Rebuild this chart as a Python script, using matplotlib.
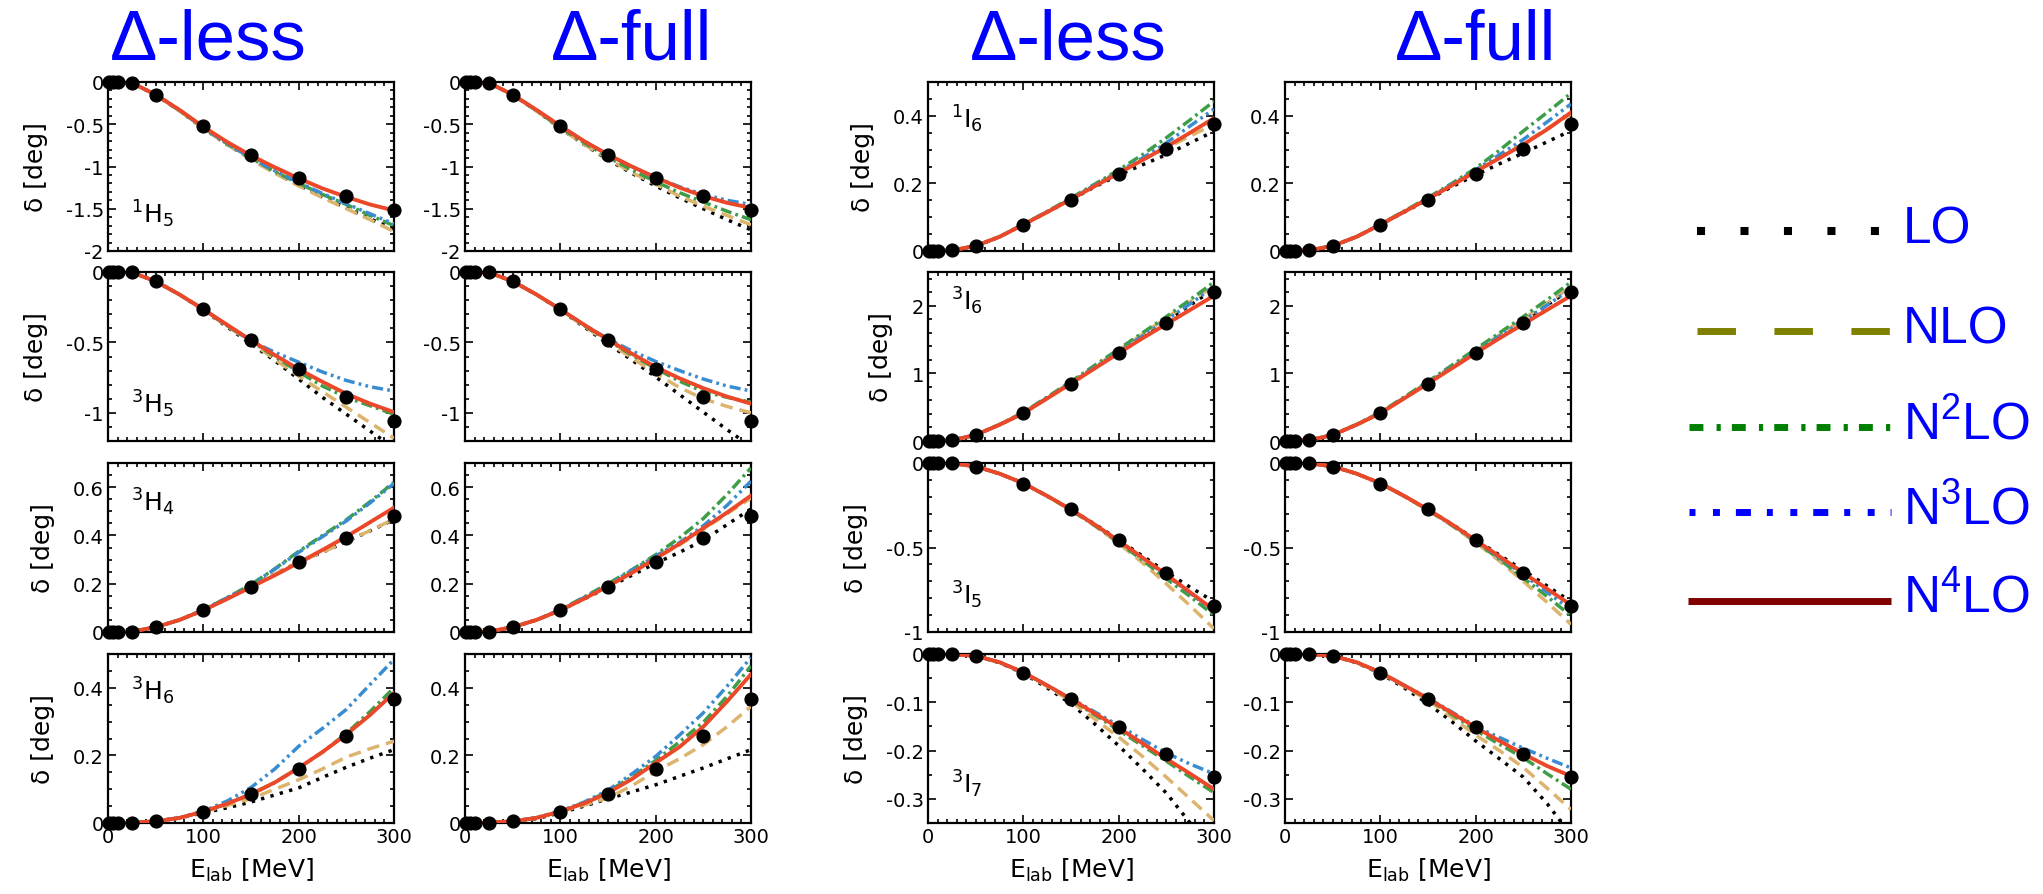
import numpy as np
import matplotlib.pyplot as plt
from matplotlib.ticker import MultipleLocator, FormatStrFormatter

plt.rcParams['axes.unicode_minus'] = False
plt.rcParams['lines.scale_dashes'] = False

# energies (MeV) of the curves and of the PWA points
E = [0, 25, 50, 75, 100, 125, 150, 175, 200, 225, 250, 275, 300]
E_pwa = [1, 5, 10, 25, 50, 100, 150, 200, 250, 300]

orders = ["LO", "NLO", "N2LO", "N3LO", "N4LO"]
legend_labels = ["LO", "NLO", r"N$^{\mathregular{2}}$LO",
                 r"N$^{\mathregular{3}}$LO", r"N$^{\mathregular{4}}$LO"]
titles = ["Δ-less", "Δ-full", "Δ-less", "Δ-full"]

# ---- 1H5
pwa_1H5 = [0, 0, 0, -0.01, -0.155, -0.52, -0.865, -1.135, -1.35, -1.515]
less_1H5 = {
    "LO":   [0, -0.01, -0.15, -0.34, -0.55, -0.74, -0.91, -1.07, -1.22, -1.36, -1.49, -1.62, -1.74],
    "NLO":  [0, -0.01, -0.15, -0.34, -0.55, -0.74, -0.92, -1.08, -1.23, -1.37, -1.50, -1.63, -1.77],
    "N2LO": [0, -0.01, -0.15, -0.34, -0.54, -0.73, -0.90, -1.06, -1.20, -1.33, -1.45, -1.58, -1.70],
    "N3LO": [0, -0.01, -0.15, -0.33, -0.54, -0.73, -0.90, -1.05, -1.19, -1.32, -1.44, -1.56, -1.68],
    "N4LO": [0, -0.01, -0.15, -0.33, -0.53, -0.71, -0.87, -1.01, -1.14, -1.26, -1.36, -1.45, -1.52],
}
full_1H5 = {
    "LO":   [0, -0.01, -0.15, -0.34, -0.55, -0.74, -0.92, -1.08, -1.23, -1.37, -1.50, -1.63, -1.75],
    "NLO":  [0, -0.01, -0.15, -0.34, -0.55, -0.74, -0.91, -1.07, -1.21, -1.35, -1.47, -1.58, -1.69],
    "N2LO": [0, -0.01, -0.15, -0.34, -0.54, -0.72, -0.89, -1.04, -1.18, -1.31, -1.42, -1.53, -1.63],
    "N3LO": [0, -0.01, -0.15, -0.33, -0.52, -0.70, -0.86, -1.00, -1.13, -1.24, -1.33, -1.40, -1.45],
    "N4LO": [0, -0.01, -0.15, -0.33, -0.52, -0.70, -0.86, -1.00, -1.13, -1.25, -1.35, -1.43, -1.49],
}

# ---- 3H5
pwa_3H5 = [0, 0, 0, -0.003, -0.066, -0.265, -0.486, -0.69, -0.89, -1.055]
less_3H5 = {
    "LO":   [0, -0.003, -0.066, -0.16, -0.27, -0.39, -0.51, -0.63, -0.76, -0.89, -1.01, -1.13, -1.25],
    "NLO":  [0, -0.003, -0.066, -0.16, -0.27, -0.385, -0.50, -0.62, -0.74, -0.85, -0.96, -1.07, -1.18],
    "N2LO": [0, -0.003, -0.066, -0.16, -0.265, -0.38, -0.49, -0.60, -0.71, -0.81, -0.89, -0.95, -1.01],
    "N3LO": [0, -0.003, -0.066, -0.16, -0.265, -0.38, -0.49, -0.57, -0.64, -0.71, -0.77, -0.815, -0.845],
    "N4LO": [0, -0.003, -0.066, -0.16, -0.265, -0.375, -0.485, -0.59, -0.69, -0.78, -0.865, -0.935, -0.995],
}
full_3H5 = {
    "LO":   [0, -0.003, -0.066, -0.16, -0.27, -0.39, -0.51, -0.625, -0.745, -0.87, -0.995, -1.12, -1.24],
    "NLO":  [0, -0.003, -0.066, -0.16, -0.27, -0.385, -0.50, -0.61, -0.72, -0.82, -0.90, -0.955, -1.0],
    "N2LO": [0, -0.003, -0.066, -0.16, -0.265, -0.38, -0.485, -0.59, -0.685, -0.775, -0.85, -0.89, -0.925],
    "N3LO": [0, -0.003, -0.066, -0.16, -0.265, -0.375, -0.475, -0.56, -0.635, -0.70, -0.76, -0.81, -0.845],
    "N4LO": [0, -0.003, -0.066, -0.16, -0.265, -0.375, -0.48, -0.58, -0.675, -0.755, -0.825, -0.885, -0.935],
}

# ---- 3H4
pwa_3H4 = [0, 0, 0, 0.002, 0.02, 0.09, 0.187, 0.29, 0.39, 0.48]
less_3H4 = {
    "LO":   [0, 0.002, 0.02, 0.05, 0.09, 0.138, 0.19, 0.24, 0.29, 0.33, 0.374, 0.419, 0.466],
    "NLO":  [0, 0.002, 0.02, 0.05, 0.09, 0.138, 0.19, 0.24, 0.29, 0.33, 0.375, 0.42, 0.468],
    "N2LO": [0, 0.002, 0.02, 0.05, 0.092, 0.142, 0.197, 0.262, 0.334, 0.40, 0.465, 0.54, 0.62],
    "N3LO": [0, 0.002, 0.02, 0.05, 0.092, 0.142, 0.197, 0.26, 0.33, 0.395, 0.46, 0.535, 0.615],
    "N4LO": [0, 0.002, 0.02, 0.05, 0.09, 0.137, 0.186, 0.235, 0.287, 0.34, 0.395, 0.455, 0.515],
}
full_3H4 = {
    "LO":   [0, 0.002, 0.02, 0.05, 0.09, 0.137, 0.185, 0.235, 0.285, 0.33, 0.38, 0.445, 0.51],
    "NLO":  [0, 0.002, 0.02, 0.05, 0.09, 0.138, 0.19, 0.245, 0.305, 0.36, 0.425, 0.49, 0.555],
    "N2LO": [0, 0.002, 0.02, 0.05, 0.092, 0.145, 0.2, 0.258, 0.32, 0.39, 0.47, 0.57, 0.68],
    "N3LO": [0, 0.002, 0.02, 0.05, 0.092, 0.143, 0.197, 0.255, 0.315, 0.37, 0.44, 0.525, 0.625],
    "N4LO": [0, 0.002, 0.02, 0.05, 0.09, 0.138, 0.19, 0.245, 0.305, 0.365, 0.43, 0.495, 0.565],
}

# ---- 3H6
pwa_3H6 = [0, 0, 0, 0.001, 0.005, 0.034, 0.087, 0.161, 0.257, 0.367]
less_3H6 = {
    "LO":   [0, 0.001, 0.005, 0.015, 0.03, 0.045, 0.062, 0.083, 0.104, 0.135, 0.165, 0.192, 0.217],
    "NLO":  [0, 0.001, 0.005, 0.015, 0.033, 0.052, 0.072, 0.10, 0.128, 0.16, 0.195, 0.22, 0.242],
    "N2LO": [0, 0.001, 0.005, 0.015, 0.034, 0.057, 0.085, 0.12, 0.163, 0.21, 0.265, 0.33, 0.40],
    "N3LO": [0, 0.001, 0.005, 0.016, 0.035, 0.065, 0.105, 0.16, 0.227, 0.28, 0.336, 0.41, 0.484],
    "N4LO": [0, 0.001, 0.005, 0.015, 0.034, 0.057, 0.085, 0.12, 0.163, 0.21, 0.262, 0.32, 0.385],
}
full_3H6 = {
    "LO":   [0, 0.001, 0.005, 0.013, 0.03, 0.05, 0.072, 0.092, 0.113, 0.138, 0.163, 0.19, 0.217],
    "NLO":  [0, 0.001, 0.005, 0.015, 0.033, 0.053, 0.074, 0.11, 0.153, 0.19, 0.232, 0.285, 0.345],
    "N2LO": [0, 0.001, 0.005, 0.016, 0.035, 0.06, 0.093, 0.137, 0.185, 0.24, 0.298, 0.375, 0.465],
    "N3LO": [0, 0.001, 0.005, 0.016, 0.035, 0.062, 0.097, 0.145, 0.197, 0.26, 0.326, 0.405, 0.49],
    "N4LO": [0, 0.001, 0.005, 0.015, 0.034, 0.058, 0.089, 0.13, 0.178, 0.225, 0.285, 0.36, 0.44],
}

# ---- 1I6
pwa_1I6 = [0, 0, 0, 0.002, 0.015, 0.078, 0.152, 0.228, 0.301, 0.376]
less_1I6 = {
    "LO":   [0, 0.002, 0.015, 0.042, 0.078, 0.115, 0.152, 0.19, 0.225, 0.255, 0.285, 0.32, 0.354],
    "NLO":  [0, 0.002, 0.015, 0.042, 0.078, 0.115, 0.153, 0.193, 0.232, 0.27, 0.305, 0.34, 0.375],
    "N2LO": [0, 0.002, 0.015, 0.042, 0.079, 0.117, 0.157, 0.198, 0.24, 0.285, 0.335, 0.388, 0.443],
    "N3LO": [0, 0.002, 0.015, 0.042, 0.079, 0.116, 0.155, 0.195, 0.235, 0.275, 0.32, 0.37, 0.42],
    "N4LO": [0, 0.002, 0.015, 0.042, 0.078, 0.115, 0.153, 0.192, 0.23, 0.269, 0.308, 0.35, 0.393],
}
full_1I6 = {
    "LO":   [0, 0.002, 0.015, 0.042, 0.078, 0.115, 0.152, 0.19, 0.225, 0.258, 0.29, 0.323, 0.356],
    "NLO":  [0, 0.002, 0.015, 0.042, 0.078, 0.116, 0.155, 0.195, 0.235, 0.275, 0.318, 0.362, 0.405],
    "N2LO": [0, 0.002, 0.015, 0.042, 0.079, 0.118, 0.158, 0.2, 0.245, 0.298, 0.355, 0.41, 0.467],
    "N3LO": [0, 0.002, 0.015, 0.042, 0.079, 0.117, 0.156, 0.197, 0.24, 0.285, 0.33, 0.382, 0.435],
    "N4LO": [0, 0.002, 0.015, 0.042, 0.078, 0.116, 0.154, 0.194, 0.235, 0.275, 0.315, 0.36, 0.41],
}

# ---- 3I6
pwa_3I6 = [0, 0, 0, 0.01, 0.09, 0.42, 0.85, 1.3, 1.75, 2.2]
less_3I6 = {
    "LO":   [0, 0.01, 0.09, 0.24, 0.415, 0.635, 0.86, 1.09, 1.32, 1.55, 1.78, 2.01, 2.25],
    "NLO":  [0, 0.01, 0.09, 0.24, 0.42, 0.64, 0.87, 1.1, 1.34, 1.58, 1.82, 2.06, 2.3],
    "N2LO": [0, 0.01, 0.09, 0.245, 0.425, 0.65, 0.88, 1.12, 1.36, 1.6, 1.84, 2.09, 2.35],
    "N3LO": [0, 0.01, 0.09, 0.24, 0.415, 0.635, 0.86, 1.09, 1.32, 1.55, 1.79, 2.03, 2.28],
    "N4LO": [0, 0.01, 0.09, 0.24, 0.41, 0.63, 0.85, 1.075, 1.3, 1.52, 1.73, 1.94, 2.15],
}
full_3I6 = {
    "LO":   [0, 0.01, 0.09, 0.24, 0.415, 0.635, 0.86, 1.09, 1.32, 1.55, 1.78, 2.01, 2.25],
    "NLO":  [0, 0.01, 0.09, 0.24, 0.42, 0.64, 0.87, 1.1, 1.335, 1.57, 1.805, 2.04, 2.28],
    "N2LO": [0, 0.01, 0.09, 0.245, 0.425, 0.65, 0.88, 1.12, 1.36, 1.6, 1.84, 2.09, 2.35],
    "N3LO": [0, 0.01, 0.09, 0.24, 0.415, 0.635, 0.86, 1.09, 1.32, 1.55, 1.78, 2.01, 2.25],
    "N4LO": [0, 0.01, 0.09, 0.24, 0.41, 0.63, 0.85, 1.075, 1.3, 1.52, 1.73, 1.94, 2.15],
}

# ---- 3I5
pwa_3I5 = [0, 0, 0, -0.001, -0.022, -0.122, -0.275, -0.457, -0.65, -0.848]
less_3I5 = {
    "LO":   [0, -0.002, -0.02, -0.063, -0.12, -0.195, -0.275, -0.362, -0.455, -0.55, -0.645, -0.735, -0.82],
    "NLO":  [0, -0.002, -0.02, -0.063, -0.12, -0.196, -0.28, -0.372, -0.475, -0.59, -0.715, -0.845, -0.98],
    "N2LO": [0, -0.002, -0.02, -0.063, -0.12, -0.196, -0.278, -0.37, -0.47, -0.575, -0.685, -0.79, -0.90],
    "N3LO": [0, -0.002, -0.02, -0.063, -0.12, -0.195, -0.276, -0.366, -0.462, -0.562, -0.665, -0.77, -0.88],
    "N4LO": [0, -0.002, -0.02, -0.063, -0.12, -0.195, -0.275, -0.365, -0.46, -0.56, -0.66, -0.765, -0.87],
}
full_3I5 = {
    "LO":   [0, -0.002, -0.02, -0.063, -0.12, -0.195, -0.275, -0.362, -0.453, -0.545, -0.635, -0.728, -0.82],
    "NLO":  [0, -0.002, -0.02, -0.063, -0.12, -0.196, -0.28, -0.37, -0.47, -0.58, -0.70, -0.825, -0.955],
    "N2LO": [0, -0.002, -0.02, -0.063, -0.12, -0.196, -0.278, -0.368, -0.465, -0.57, -0.68, -0.79, -0.905],
    "N3LO": [0, -0.002, -0.02, -0.063, -0.12, -0.195, -0.276, -0.365, -0.46, -0.56, -0.662, -0.765, -0.87],
    "N4LO": [0, -0.002, -0.02, -0.063, -0.12, -0.195, -0.275, -0.363, -0.457, -0.553, -0.65, -0.745, -0.84],
}

# ---- 3I7
pwa_3I7 = [0, 0, 0, 0, -0.005, -0.04, -0.093, -0.151, -0.207, -0.255]
less_3I7 = {
    "LO":   [0, 0, -0.004, -0.018, -0.04, -0.07, -0.103, -0.145, -0.19, -0.238, -0.288, -0.35, -0.415],
    "NLO":  [0, 0, -0.004, -0.017, -0.039, -0.067, -0.098, -0.135, -0.172, -0.212, -0.255, -0.30, -0.345],
    "N2LO": [0, 0, -0.004, -0.017, -0.038, -0.065, -0.094, -0.126, -0.158, -0.19, -0.222, -0.255, -0.287],
    "N3LO": [0, 0, -0.004, -0.017, -0.038, -0.065, -0.092, -0.12, -0.148, -0.177, -0.205, -0.228, -0.248],
    "N4LO": [0, 0, -0.004, -0.017, -0.038, -0.065, -0.093, -0.123, -0.153, -0.185, -0.217, -0.248, -0.28],
}
full_3I7 = {
    "LO":   [0, 0, -0.004, -0.018, -0.04, -0.07, -0.103, -0.14, -0.18, -0.217, -0.255, -0.31, -0.375],
    "NLO":  [0, 0, -0.004, -0.017, -0.039, -0.067, -0.096, -0.131, -0.168, -0.2, -0.235, -0.278, -0.322],
    "N2LO": [0, 0, -0.004, -0.017, -0.038, -0.065, -0.093, -0.125, -0.158, -0.187, -0.215, -0.248, -0.28],
    "N3LO": [0, 0, -0.004, -0.017, -0.038, -0.065, -0.091, -0.12, -0.15, -0.173, -0.195, -0.216, -0.236],
    "N4LO": [0, 0, -0.004, -0.017, -0.038, -0.065, -0.092, -0.122, -0.152, -0.18, -0.207, -0.232, -0.253],
}

# panel grid: (label, pwa, less, full, ylim, major, minor, label y in axes frac)
left_block = [
    (r"$^{1}$H$_{5}$", pwa_1H5, less_1H5, full_1H5, (-2, 0), 0.5, 0.1, 0.17),
    (r"$^{3}$H$_{5}$", pwa_3H5, less_3H5, full_3H5, (-1.2, 0), 0.5, 0.1, 0.17),
    (r"$^{3}$H$_{4}$", pwa_3H4, less_3H4, full_3H4, (0, 0.7), 0.2, 0.05, 0.72),
    (r"$^{3}$H$_{6}$", pwa_3H6, less_3H6, full_3H6, (0, 0.5), 0.2, 0.05, 0.73),
]
right_block = [
    (r"$^{1}$I$_{6}$", pwa_1I6, less_1I6, full_1I6, (0, 0.5), 0.2, 0.05, 0.73),
    (r"$^{3}$I$_{6}$", pwa_3I6, less_3I6, full_3I6, (0, 2.5), 1, 0.2, 0.78),
    (r"$^{3}$I$_{5}$", pwa_3I5, less_3I5, full_3I5, (-1, 0), 0.5, 0.1, 0.17),
    (r"$^{3}$I$_{7}$", pwa_3I7, less_3I7, full_3I7, (-0.35, 0), 0.1, 0.05, 0.18),
]

styles = {
    "LO":   dict(color="black", dashes=(2.4, 4.6), lw=2.5),
    "NLO":  dict(color="#dcb46e", dashes=(9, 5), lw=2.5),
    "N2LO": dict(color="#3e9e48", dashes=(8, 3, 2, 3), lw=2.5),
    "N3LO": dict(color="#3a8cd0", dashes=(8, 3, 2, 3, 2, 3), lw=2.5),
    "N4LO": dict(color="#ea4828", ls="-", lw=2.8),
}
legend_styles = {
    "LO":   dict(color="black", dashes=(5.8, 25.5), lw=5.8),
    "NLO":  dict(color="#808000", dashes=(27.7, 27.7), lw=5),
    "N2LO": dict(color="#008000", dashes=(10, 9.5, 3, 8), lw=5),
    "N3LO": dict(color="#0000ff", dashes=(4.3, 12.6, 5, 11.5, 10.8, 11.5), lw=5),
    "N4LO": dict(color="#800000", ls="-", lw=5),
}

W, H = 2043, 895
fig = plt.figure(figsize=(W / 100, H / 100), dpi=100)

col_left = [108, 465, 928, 1285]
row_top = [83, 273, 464, 655]
pw, ph = 286, 169

for c in range(4):
    block = left_block if c < 2 else right_block
    for r in range(4):
        label, pwa, less, full, ylim, major, minor, ly = block[r]
        curves = less if c % 2 == 0 else full
        ax = fig.add_axes([col_left[c] / W, 1 - (row_top[r] + ph) / H, pw / W, ph / H])
        for i, o in enumerate(orders):
            ax.plot(E, curves[o], zorder=2 + i, **styles[o])
        ax.plot(E_pwa, pwa, "o", color="black", ms=9.2, clip_on=False, zorder=10)
        ax.set_xlim(0, 300)
        ax.set_ylim(*ylim)
        ax.xaxis.set_major_locator(MultipleLocator(100))
        ax.xaxis.set_minor_locator(MultipleLocator(10))
        ax.yaxis.set_major_locator(MultipleLocator(major))
        ax.yaxis.set_minor_locator(MultipleLocator(minor))
        ax.yaxis.set_major_formatter(FormatStrFormatter("%g"))
        ax.tick_params(which="both", direction="in", top=True, right=True, width=1.2,
                       labelsize=14, pad=3)
        ax.tick_params(which="major", length=5.5)
        ax.tick_params(which="minor", length=3)
        for s in ax.spines.values():
            s.set_linewidth(1.6)
        if r < 3:
            ax.tick_params(labelbottom=False)
        else:
            ax.set_xlabel(r"E$_{\mathregular{lab}}$ [MeV]", fontsize=18, labelpad=7)
        if c % 2 == 0:
            ax.set_ylabel("δ [deg]", fontsize=18, labelpad=13)
            ax.text(0.08, ly, label, transform=ax.transAxes, fontsize=18, va="baseline")

# column titles
title_x = [208, 632, 1068, 1476]
for x, t in zip(title_x, titles):
    fig.text(x / W, 1 - 41 / H, t, fontsize=51, color="#0000ff", ha="center", va="center",
             family=["Liberation Sans", "DejaVu Sans"])

# legend on the right
lax = fig.add_axes([0, 0, 1, 1])
lax.set_xlim(0, W)
lax.set_ylim(H, 0)
lax.axis("off")
leg_y = [232, 332, 428, 513, 602]
leg_x0 = [1697, 1697, 1689, 1689, 1688]
for o, lab, y, x0 in zip(orders, legend_labels, leg_y, leg_x0):
    lax.plot([x0, 1891], [y, y], solid_capstyle="butt", **legend_styles[o])
    lax.text(1903, y + 11, lab, fontsize=37, color="#0000ff", va="baseline", ha="left",
             family=["Liberation Sans", "DejaVu Sans"])

fig.savefig("out.png", dpi=100)
